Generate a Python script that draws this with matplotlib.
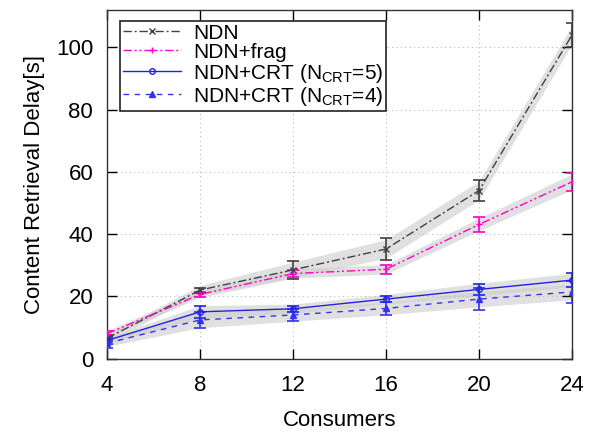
import matplotlib
matplotlib.use('Agg')
import matplotlib.pyplot as plt

plt.rcParams['font.family'] = ['Liberation Sans', 'DejaVu Sans']
plt.rcParams['mathtext.fontset'] = 'custom'
plt.rcParams['mathtext.rm'] = 'Liberation Sans'
plt.rcParams['mathtext.it'] = 'Liberation Sans'

consumers = [4, 8, 12, 16, 20, 24]

ndn = [6.5, 22.0, 28.5, 35.2, 54.0, 104.0]
ndn_err = [1.0, 0.8, 3.0, 3.5, 3.5, 3.8]
ndn_band = [1.2, 1.5, 2.5, 3.0, 3.0, 3.0]

frag = [8.0, 20.6, 27.3, 28.7, 43.1, 56.8]
frag_err = [0.8, 0.8, 1.2, 1.5, 2.3, 2.8]
frag_band = [1.0, 1.0, 1.5, 1.5, 2.0, 2.5]

crt5 = [5.8, 15.0, 16.0, 19.1, 22.2, 25.2]
crt5_err = [1.2, 2.0, 1.0, 1.0, 1.9, 2.3]
crt5_band = [1.0, 2.0, 1.5, 1.5, 2.0, 2.2]

crt4 = [4.9, 12.4, 14.0, 16.1, 19.1, 21.4]
crt4_err = [1.5, 2.5, 2.0, 2.1, 3.5, 3.5]
crt4_band = [1.0, 2.5, 2.0, 2.0, 2.5, 2.5]

series = [
    ('NDN', ndn, ndn_err, ndn_band, '#404040', (0, (6, 2, 1.5, 2)), 'x', 'none'),
    ('NDN+frag', frag, frag_err, frag_band, '#ff00cc', (0, (6, 2, 1.5, 2, 1.5, 2)), '+', 'none'),
    (r'NDN+CRT (N$_{\mathrm{CRT}}$=5)', crt5, crt5_err, crt5_band, '#2222dd', '-', 'o', 'none'),
    (r'NDN+CRT (N$_{\mathrm{CRT}}$=4)', crt4, crt4_err, crt4_band, '#3333ee', (0, (4, 4)), '^', '#3333ee'),
]

fig = plt.figure(figsize=(6.06, 4.37), dpi=100)
ax = fig.add_axes([0.1766, 0.1796, 0.7674, 0.7974])

# shaded bands first so lines sit on top
for name, y, err, band, col, ls, mk, mfc in series:
    lo = [v - b for v, b in zip(y, band)]
    hi = [v + b for v, b in zip(y, band)]
    ax.fill_between(consumers, lo, hi, color='#cccccc', alpha=0.6, lw=0, zorder=1)

for name, y, err, band, col, ls, mk, mfc in series:
    ax.errorbar(consumers, y, yerr=err, fmt='none', ecolor=col, elinewidth=1.2,
                capsize=4, capthick=1.2, zorder=3)
    ax.plot(consumers, y, color=col, ls=ls, lw=1.0, marker=mk, markersize=4,
            markerfacecolor=mfc, markeredgecolor=col, markeredgewidth=1.0,
            label=name, zorder=4)

ax.set_xlim(4, 24)
ax.set_ylim(0, 112)
ax.set_xticks(consumers)
ax.set_yticks([0, 20, 40, 60, 80, 100])
ax.tick_params(direction='in', length=7, width=1, top=True, right=True,
               labelsize=16)
ax.tick_params(axis='x', pad=12)
ax.tick_params(axis='y', pad=10)
ax.grid(True, ls=(0, (1, 3)), color='#bbbbbb', lw=0.8)
for s in ax.spines.values():
    s.set_color('#333333')
    s.set_linewidth(1.0)

ax.set_xlabel('Consumers', fontsize=16, labelpad=10)
ax.set_ylabel('Content Retrieval Delay[s]', fontsize=16, labelpad=8)

leg = ax.legend(loc='upper left', bbox_to_anchor=(0.028, 0.97), fontsize=15,
                frameon=True, fancybox=False, edgecolor='#222222', framealpha=1,
                handlelength=2.8, borderpad=0.15, labelspacing=0.0,
                handletextpad=0.55, borderaxespad=0)
leg.get_frame().set_linewidth(1.2)

plt.savefig('out.png', dpi=100)
